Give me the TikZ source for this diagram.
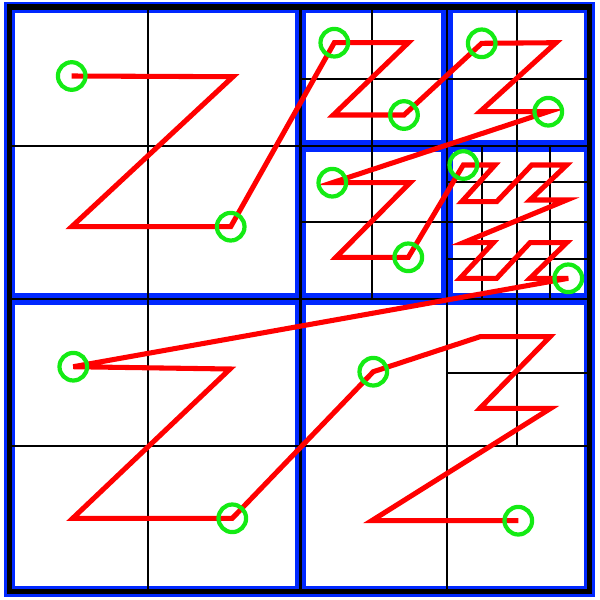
\documentclass[tikz,border=0pt]{standalone}
\usepackage{xcolor}
\usepackage{tikz}
\definecolor{qblue}{RGB}{0,40,255}
\definecolor{qgreen}{RGB}{20,235,20}

\begin{document}
\begin{tikzpicture}[x=0.025cm, y=-0.025cm,
    bluebox/.style={draw=qblue, line width=3.5pt},
    gridline/.style={draw=black, line width=1.6pt},
    divline/.style={draw=black, line width=2.1pt},
    zcurve/.style={draw=red, line width=3.6pt},
    ring/.style={circle, draw=qgreen, line width=3pt, minimum size=0.69cm, inner sep=0pt}
  ]
    \useasboundingbox (0,0) rectangle (600,600);

    % Blue frames
    \draw[bluebox, line width=2.6pt] (5.5,3.5) rectangle (593,595);
    \foreach \xa/\ya/\xb/\yb in {9.5/7/300.5/299, 300.5/7/589.5/299, 9.5/299/300.5/591.5, 300.5/299/589.5/591.5,
        300.5/7/446.7/146, 446.7/7/589.5/146, 300.5/146/446.7/299, 446.7/146/589.5/299}
      \draw[bluebox] (\xa+3.5,\ya+3.5) rectangle (\xb-3.5,\yb-3.5);

    % Grid lines
    \draw[gridline] (148,7) -- (148,591.5) (446.7,7) -- (446.7,591.5);
    \draw[gridline] (9.5,146) -- (589.5,146) (9.5,445.7) -- (589.5,445.7);
    \draw[gridline] (372.3,7) -- (372.3,299) (516.7,7) -- (516.7,445.7);
    \draw[gridline] (300.5,79) -- (589.5,79) (300.5,222.3) -- (589.5,222.3);
    \draw[gridline] (482,146) -- (482,299) (550,146) -- (550,299);
    \draw[gridline] (446.7,181.7) -- (589.5,181.7) (446.7,259) -- (589.5,259);
    \draw[gridline] (446.7,373.3) -- (589.5,373.3);
    \draw[divline] (300.5,7) -- (300.5,591.5) (9.5,299) -- (589.5,299);
    \draw[black, line width=3.6pt] (9.5,7) rectangle (589.5,591.5);

    % Curve points
    \foreach \x/\y [count=\i] in {71.7/76, 233/76.7, 71.7/226.7, 230.7/226.7,
        334.3/42.7, 408.3/42.7, 333.3/115, 404/115,
        481.7/43.3, 556/42.7, 480/111.7, 548.3/111.7,
        332.3/182.7, 410/182.7, 336/257.3, 408.3/257.3,
        463.3/165, 495/165, 461.7/201.7, 496.7/201.7, 531.7/165, 566.7/165, 530/200, 566.7/200,
        463.3/242.7, 493.3/242.7, 460/278.3, 496.7/278.3, 530/242.7, 566.7/242.7, 530/278.3, 568.3/278.3,
        73.3/366.7, 230/369, 72.7/518.3, 232.3/518.3,
        373.3/371.7, 480/336.7, 550/336.7, 480/408.3, 550.7/408.3, 371.7/520.7, 518.3/520.7}
      \coordinate (z\i) at (\x,\y);

    % Curve
    \draw[zcurve] (z1) \foreach \i in {2,...,43} {-- (z\i)};

    % Block ends
    \foreach \i in {1,4,5,8,9,12,13,16,17,32,33,36,37,43}
      \node[ring] (c\i) at (z\i) {};

\end{tikzpicture}
\end{document}
